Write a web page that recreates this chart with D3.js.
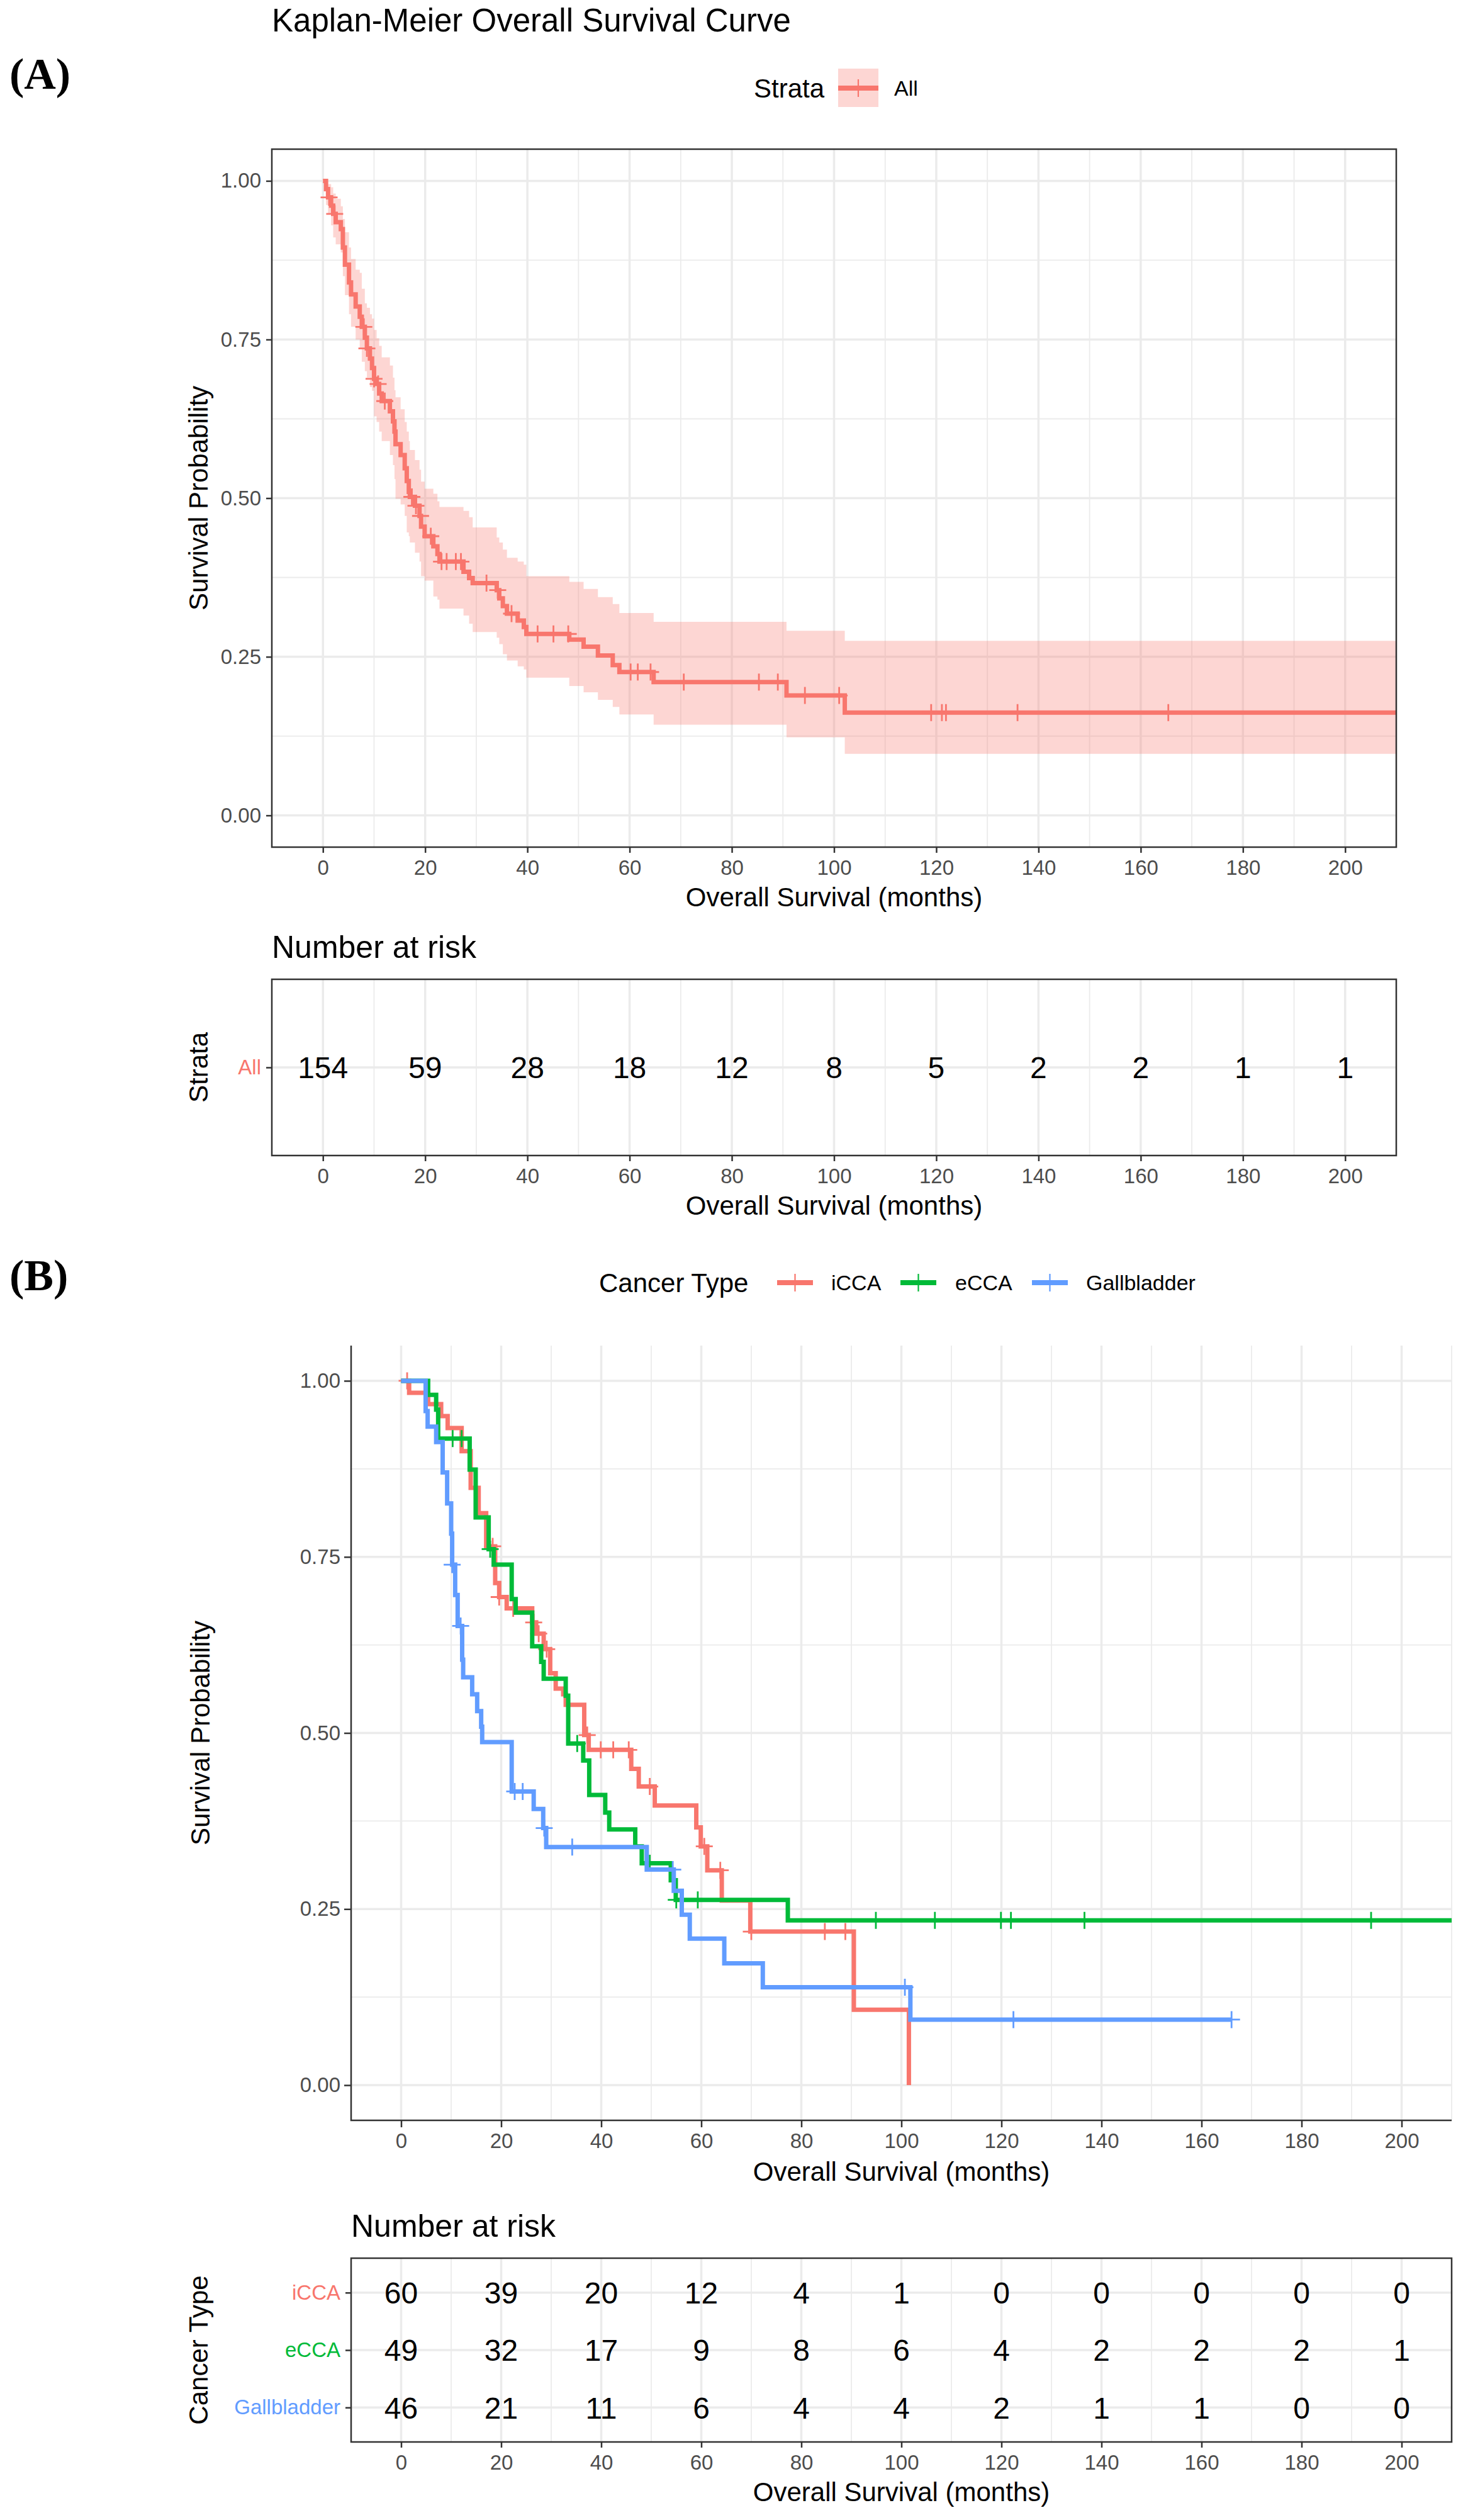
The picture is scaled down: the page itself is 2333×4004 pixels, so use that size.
<!DOCTYPE html>
<html lang="en">
<head>
  <meta charset="UTF-8">
  <title>Kaplan-Meier Overall Survival</title>
  <script src="https://d3js.org/d3.v7.min.js"></script>
  <style>
    body { margin: 0; background: #fff; }
    text { font-family: 'Liberation Sans', Arial, Helvetica, sans-serif; }
    .tick text { font-size: 33px; }
    .tick line { stroke: #333; stroke-width: 2.5; }
  </style>
</head>
<body>
  <div id="chart"></div>

  <script>
    // ---- data: panel A (all patients) ----
    const timeA = [0, 0.6, 1.0, 1.6, 2.0, 2.5, 3.5, 3.9, 4.3, 5.1, 5.5, 6.4, 7.2, 7.6, 8.2, 8.6, 9.2, 9.6, 10.0, 10.5,
      11.0, 11.5, 13.1, 13.7, 14.0, 14.2, 15.2, 16.0, 16.4, 16.8, 17.0, 18.0, 18.9, 19.2, 19.9, 21.6, 22.4, 22.8,
      27.5, 28.6, 29.3, 34.0, 34.5, 35.2, 36.0, 38.1, 39.3, 39.8, 48.2, 51.0, 53.8, 56.7, 58.0, 64.7, 90.7, 102.1];
    const survA = [1, 0.987, 0.974, 0.961, 0.948, 0.935, 0.924, 0.895, 0.868, 0.840, 0.821, 0.802, 0.786, 0.770, 0.753, 0.736,
      0.720, 0.705, 0.688, 0.680, 0.665, 0.653, 0.637, 0.621, 0.605, 0.585, 0.568, 0.547, 0.527, 0.510, 0.502, 0.488,
      0.472, 0.455, 0.440, 0.424, 0.412, 0.400, 0.384, 0.374, 0.366, 0.355, 0.342, 0.330, 0.318, 0.307, 0.297, 0.286,
      0.277, 0.266, 0.252, 0.237, 0.226, 0.210, 0.189, 0.162];
    const lowerA = [1, 0.962, 0.948, 0.930, 0.911, 0.900, 0.887, 0.850, 0.820, 0.790, 0.770, 0.750, 0.736, 0.715, 0.700, 0.690,
      0.675, 0.669, 0.629, 0.620, 0.605, 0.590, 0.568, 0.552, 0.530, 0.499, 0.490, 0.472, 0.446, 0.440, 0.430, 0.414,
      0.400, 0.377, 0.370, 0.345, 0.340, 0.326, 0.315, 0.302, 0.289, 0.280, 0.270, 0.254, 0.244, 0.235, 0.230, 0.217,
      0.204, 0.194, 0.182, 0.171, 0.159, 0.143, 0.123, 0.097];
    const upperA = [1, 1.000, 0.995, 0.990, 0.980, 0.972, 0.960, 0.940, 0.919, 0.895, 0.877, 0.860, 0.855, 0.830, 0.807, 0.800,
      0.790, 0.783, 0.765, 0.752, 0.740, 0.722, 0.709, 0.690, 0.670, 0.659, 0.640, 0.620, 0.605, 0.590, 0.576, 0.560,
      0.545, 0.526, 0.515, 0.507, 0.495, 0.486, 0.480, 0.470, 0.454, 0.438, 0.430, 0.419, 0.406, 0.400, 0.395, 0.377,
      0.368, 0.357, 0.344, 0.333, 0.319, 0.305, 0.291, 0.275];
    const censorA = [1.2, 2.3, 8.0, 8.6, 10.0, 10.8, 12.1, 17.4, 18.2, 19.1, 21.1, 23.2, 24.2, 26.0, 27.0, 32.0, 34.2, 36.9,
      42.0, 45.1, 48.0, 60.2, 61.6, 64.1, 70.6, 85.3, 89.0, 94.3, 101.0, 119.0, 121.1, 121.9, 135.9, 165.4];
    const endA = 210;
    const riskLabelsA = ["All"];
    const riskA = [[154, 59, 28, 18, 12, 8, 5, 2, 2, 1, 1]];

    // ---- data: panel B (by cancer type) ----
    const groupsB = ["iCCA", "eCCA", "Gallbladder"];
    const colorsB = ["#F8766D", "#00BA38", "#619CFF"];
    const timeICCA = [0, 1.6, 5.4, 8.0, 9.3, 12.1, 13.9, 15.5, 17.0, 18.8, 19.6, 21.1, 26.2, 27.0, 28.5, 29.8, 30.9, 32.4,
      32.9, 36.6, 37.5, 46.0, 47.5, 50.7, 59.0, 59.9, 61.2, 64.1, 69.8, 90.5, 101.5];
    const survICCA = [1, 0.983, 0.967, 0.950, 0.933, 0.900, 0.848, 0.812, 0.765, 0.713, 0.693, 0.677, 0.657, 0.641, 0.619,
      0.585, 0.563, 0.555, 0.540, 0.497, 0.476, 0.449, 0.424, 0.397, 0.366, 0.339, 0.305, 0.262, 0.218, 0.107, 0];
    const censorICCA = [1.2, 18.3, 19.6, 22.4, 26.5, 27.5, 29.1, 37.2, 39.9, 42.4, 45.5, 49.7, 60.6, 63.8, 70.0, 84.7, 88.8];
    const timeECCA = [0, 5.4, 7.0, 7.4, 13.7, 14.9, 17.5, 18.5, 22.1, 22.9, 26.2, 28.0, 28.5, 32.9, 33.4, 36.4, 37.6, 40.8,
      41.6, 46.8, 48.1, 53.9, 54.9, 77.3];
    const survECCA = [1, 0.980, 0.959, 0.918, 0.874, 0.806, 0.761, 0.739, 0.690, 0.671, 0.623, 0.601, 0.577, 0.553, 0.485,
      0.461, 0.412, 0.387, 0.363, 0.339, 0.315, 0.291, 0.263, 0.234];
    const censorECCA = [10.3, 12.1, 17.8, 35.2, 49.7, 55.0, 59.3, 94.9, 106.7, 119.9, 121.9, 136.6, 193.9];
    const timeGB = [0, 4.9, 5.3, 7.0, 8.3, 9.2, 10.0, 10.2, 10.8, 11.3, 12.2, 12.4, 14.2, 15.2, 16.0, 16.2, 22.1, 26.5, 28.4,
      29.0, 49.1, 54.5, 56.1, 57.7, 64.6, 72.3, 101.8];
    const survGB = [1, 0.957, 0.935, 0.913, 0.870, 0.826, 0.783, 0.739, 0.696, 0.652, 0.604, 0.579, 0.555, 0.531, 0.509,
      0.487, 0.417, 0.392, 0.365, 0.338, 0.306, 0.276, 0.242, 0.208, 0.173, 0.139, 0.093];
    const censorGB = [10.2, 11.9, 22.7, 24.3, 28.6, 34.2, 54.3, 100.7, 122.4, 166.0];
    const endB = [101.5, 210, 166.0];
    const riskB = [
      [60, 39, 20, 12, 4, 1, 0, 0, 0, 0, 0],
      [49, 32, 17, 9, 8, 6, 4, 2, 2, 2, 1],
      [46, 21, 11, 6, 4, 4, 2, 1, 1, 0, 0]
    ];

    // ---- ticks ----
    const xTicks = d3.range(0, 201, 20);
    const xMinor = d3.range(-10, 211, 20);
    const yTicks = [0, 0.25, 0.5, 0.75, 1];
    const yMinor = [0.125, 0.375, 0.625, 0.875];

    const seriesB = [
      { t: timeICCA, s: survICCA, c: censorICCA },
      { t: timeECCA, s: survECCA, c: censorECCA },
      { t: timeGB, s: survGB, c: censorGB }
    ];

    const W = 2333, H = 4004;
    const redA = "#F8766D";
    const lineW = 7;

    const svg = d3.select("#chart").append("svg")
      .attr("width", W)
      .attr("height", H);
    svg.append("rect").attr("width", W).attr("height", H).attr("fill", "#fff");

    const pA = { left: 432, right: 2219, top: 237, bottom: 1346 };
    const rA = { left: 432, right: 2219, top: 1556, bottom: 1836 };
    const pB = { left: 558, right: 2307, top: 2138, bottom: 3369 };
    const rB = { left: 558, right: 2307, top: 3588, bottom: 3880 };

    function xScale(p) {
      return d3.scaleLinear().domain([-10, 210]).range([p.left, p.right]);
    }
    function yScale(p) {
      return d3.scaleLinear().domain([-0.05, 1.05]).range([p.bottom, p.top]);
    }

    function stepAt(times, surv, t) {
      const i = d3.bisectRight(times, t) - 1;
      return surv[Math.max(0, i)];
    }

    function clipFor(id, p) {
      svg.append("clipPath").attr("id", id)
        .append("rect")
        .attr("x", p.left).attr("y", p.top)
        .attr("width", p.right - p.left).attr("height", p.bottom - p.top);
    }

    function grid(p, x, y, withY) {
      const g = svg.append("g");
      g.selectAll(".vmin").data(xMinor).enter().append("line")
        .attr("x1", d => x(d)).attr("x2", d => x(d))
        .attr("y1", p.top).attr("y2", p.bottom)
        .attr("stroke", "#ebebeb").attr("stroke-width", 1.8);
      g.selectAll(".vmaj").data(xTicks).enter().append("line")
        .attr("x1", d => x(d)).attr("x2", d => x(d))
        .attr("y1", p.top).attr("y2", p.bottom)
        .attr("stroke", "#ebebeb").attr("stroke-width", 3.5);
      if (withY) {
        g.selectAll(".hmin").data(yMinor).enter().append("line")
          .attr("x1", p.left).attr("x2", p.right)
          .attr("y1", d => y(d)).attr("y2", d => y(d))
          .attr("stroke", "#ebebeb").attr("stroke-width", 1.8);
        g.selectAll(".hmaj").data(yTicks).enter().append("line")
          .attr("x1", p.left).attr("x2", p.right)
          .attr("y1", d => y(d)).attr("y2", d => y(d))
          .attr("stroke", "#ebebeb").attr("stroke-width", 3.5);
      }
      return g;
    }

    function border(p) {
      svg.append("rect")
        .attr("x", p.left).attr("y", p.top)
        .attr("width", p.right - p.left).attr("height", p.bottom - p.top)
        .attr("fill", "none").attr("stroke", "#333").attr("stroke-width", 2.5);
    }

    function xAxis(p, x) {
      const g = svg.append("g")
        .attr("transform", `translate(0,${p.bottom})`)
        .call(d3.axisBottom(x).tickValues(xTicks).tickSize(9).tickPadding(12));
      g.select(".domain").remove();
      g.selectAll(".tick text").style("fill", "#4d4d4d");
      return g;
    }

    function yAxis(p, y) {
      const g = svg.append("g")
        .attr("transform", `translate(${p.left},0)`)
        .call(d3.axisLeft(y).tickValues(yTicks).tickFormat(d3.format(".2f")).tickSize(9).tickPadding(8));
      g.select(".domain").remove();
      g.selectAll(".tick text").style("fill", "#4d4d4d");
      return g;
    }

    function textAt(x, y, str, size, opts = {}) {
      return svg.append("text")
        .attr("x", x).attr("y", y)
        .attr("font-size", size)
        .attr("fill", opts.fill || "#000")
        .attr("text-anchor", opts.anchor || "start")
        .text(str);
    }

    function vTitle(x, yMid, str) {
      svg.append("text")
        .attr("transform", `translate(${x},${yMid}) rotate(-90)`)
        .attr("text-anchor", "middle")
        .attr("font-size", 42)
        .text(str);
    }

    function plus(g, cx, cy, color, r, w = 2.8) {
      g.append("path")
        .attr("d", `M${cx - r},${cy}H${cx + r}M${cx},${cy - r}V${cy + r}`)
        .attr("stroke", color).attr("stroke-width", w).attr("fill", "none");
    }

    function riskTable(p, labels, colors, rows, yTitle) {
      const x = xScale(p);
      const y = d3.scalePoint().domain(labels).range([p.top, p.bottom]).padding(0.6);
      const g = grid(p, x, null, false);
      g.selectAll(".hrow").data(labels).enter().append("line")
        .attr("x1", p.left).attr("x2", p.right)
        .attr("y1", d => y(d)).attr("y2", d => y(d))
        .attr("stroke", "#ebebeb").attr("stroke-width", 3.5);
      rows.forEach((row, i) => {
        svg.append("g").selectAll("text").data(row).enter().append("text")
          .attr("x", (d, j) => x(xTicks[j]))
          .attr("y", y(labels[i]))
          .attr("dy", "0.36em")
          .attr("text-anchor", "middle")
          .attr("font-size", 48)
          .attr("fill", "#000")
          .text(d => d);
      });
      border(p);
      xAxis(p, x);
      const ya = svg.append("g")
        .attr("transform", `translate(${p.left},0)`)
        .call(d3.axisLeft(y).tickSize(9).tickPadding(8));
      ya.select(".domain").remove();
      ya.selectAll(".tick text").style("fill", (d, i) => colors[i]);
      textAt((p.left + p.right) / 2, p.bottom + 94, "Overall Survival (months)", 42, { anchor: "middle" });
      vTitle(330, (p.top + p.bottom) / 2, yTitle);
      textAt(p.left, p.top - 34, "Number at risk", 50);
    }

    // ================= Panel A =================
    textAt(15, 141, "(A)", 70).style("font-family", "'Liberation Serif', 'Times New Roman', serif").attr("font-weight", "bold");
    textAt(pA.left, 50, "Kaplan-Meier Overall Survival Curve", 51);

    // legend A
    textAt(1198, 155, "Strata", 42);
    const legA = svg.append("g");
    legA.append("rect").attr("x", 1332).attr("y", 109).attr("width", 64).attr("height", 61)
      .attr("fill", redA).attr("fill-opacity", 0.3);
    legA.append("line").attr("x1", 1332).attr("x2", 1396).attr("y1", 140).attr("y2", 140)
      .attr("stroke", redA).attr("stroke-width", 8);
    plus(legA, 1364, 140, redA, 14, 2.2);
    textAt(1421, 152, "All", 34);

    const xA = xScale(pA), yA = yScale(pA);
    grid(pA, xA, yA, true);
    clipFor("clipA", pA);

    const ptsA = timeA.map((t, i) => ({ t, s: survA[i], lo: lowerA[i], up: upperA[i] }));
    const lastA = ptsA[ptsA.length - 1];
    ptsA.push({ t: endA, s: lastA.s, lo: lastA.lo, up: lastA.up });

    const plotA = svg.append("g").attr("clip-path", "url(#clipA)");
    plotA.append("path")
      .datum(ptsA)
      .attr("d", d3.area().curve(d3.curveStepAfter).x(d => xA(d.t)).y0(d => yA(d.lo)).y1(d => yA(d.up)))
      .attr("fill", redA).attr("fill-opacity", 0.3);
    plotA.append("path")
      .datum(ptsA)
      .attr("d", d3.line().curve(d3.curveStepAfter).x(d => xA(d.t)).y(d => yA(d.s)))
      .attr("fill", "none").attr("stroke", redA).attr("stroke-width", lineW);
    censorA.forEach(t => plus(plotA, xA(t), yA(stepAt(timeA, survA, t)), redA, 13.5));

    border(pA);
    xAxis(pA, xA);
    yAxis(pA, yA);
    textAt((pA.left + pA.right) / 2, pA.bottom + 94, "Overall Survival (months)", 42, { anchor: "middle" });
    vTitle(330, (pA.top + pA.bottom) / 2, "Survival Probability");

    riskTable(rA, riskLabelsA, [redA], riskA, "Strata");

    // ================= Panel B =================
    textAt(15, 2050, "(B)", 70).style("font-family", "'Liberation Serif', 'Times New Roman', serif").attr("font-weight", "bold");

    // legend B
    textAt(952, 2053, "Cancer Type", 42);
    const legKeyX = [1235, 1431, 1640];
    const legTextX = [1321, 1518, 1726];
    const legB = svg.append("g");
    groupsB.forEach((gname, i) => {
      legB.append("line").attr("x1", legKeyX[i]).attr("x2", legKeyX[i] + 57)
        .attr("y1", 2038).attr("y2", 2038)
        .attr("stroke", colorsB[i]).attr("stroke-width", 8);
      plus(legB, legKeyX[i] + 28.5, 2038, colorsB[i], 14, 2.2);
      textAt(legTextX[i], 2050, gname, 34);
    });

    const xB = xScale(pB), yB = yScale(pB);
    grid(pB, xB, yB, true);
    clipFor("clipB", pB);
    const plotB = svg.append("g").attr("clip-path", "url(#clipB)");
    seriesB.forEach((ser, i) => {
      const pts = ser.t.map((t, j) => ({ t, s: ser.s[j] }));
      pts.push({ t: endB[i], s: ser.s[ser.s.length - 1] });
      plotB.append("path")
        .datum(pts)
        .attr("d", d3.line().curve(d3.curveStepAfter).x(d => xB(d.t)).y(d => yB(d.s)))
        .attr("fill", "none").attr("stroke", colorsB[i]).attr("stroke-width", lineW);
      ser.c.forEach(t => plus(plotB, xB(t), yB(stepAt(ser.t, ser.s, t)), colorsB[i], 13.5));
    });

    // axis lines (no full border in panel B)
    svg.append("path")
      .attr("d", `M${pB.left},${pB.top}V${pB.bottom}H${pB.right}`)
      .attr("fill", "none").attr("stroke", "#333").attr("stroke-width", 2.5);
    const xaB = xAxis(pB, xB);
    const yaB = yAxis(pB, yB);
    xaB.selectAll(".tick line").attr("stroke", "#000").attr("stroke-width", 3.5).attr("y2", 11);
    yaB.selectAll(".tick line").attr("stroke", "#000").attr("stroke-width", 3.5).attr("x2", -11);
    textAt((pB.left + pB.right) / 2, pB.bottom + 96, "Overall Survival (months)", 42, { anchor: "middle" });
    vTitle(333, (pB.top + pB.bottom) / 2, "Survival Probability");

    riskTable(rB, groupsB, colorsB, riskB, "Cancer Type");
  </script>
</body>
</html>
